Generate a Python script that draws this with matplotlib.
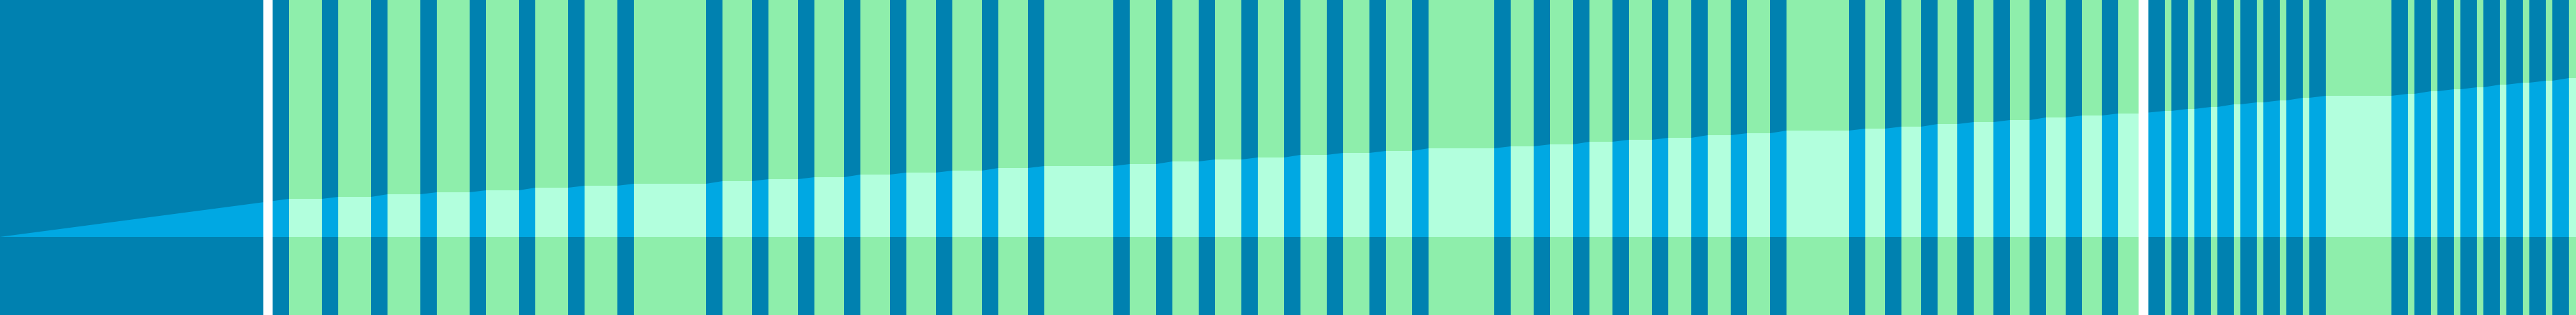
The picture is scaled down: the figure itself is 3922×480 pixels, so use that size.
import numpy as np
import matplotlib
matplotlib.use("Agg")
import matplotlib.pyplot as plt

# green columns: left edge, right edge (x) and the top of the light band over them (y, counted from top)
col_start = [440, 515, 590, 665, 740, 815, 890, 965, 1100, 1170,
             1240, 1310, 1380, 1450, 1520, 1590, 1720, 1785, 1850, 1915,
             1980, 2045, 2110, 2175, 2300, 2360, 2420, 2480, 2540, 2600,
             2660, 2720, 2840, 2895, 2950, 3005, 3060, 3115, 3170, 3225,
             3296, 3331, 3366, 3401, 3436, 3471, 3506, 3541, 3666, 3701,
             3736, 3771, 3806, 3841, 3876, 3911]
col_end = [490, 565, 640, 715, 790, 865, 940, 1075, 1145, 1215,
           1285, 1355, 1425, 1495, 1565, 1695, 1760, 1825, 1890, 1955,
           2020, 2085, 2150, 2275, 2335, 2395, 2455, 2515, 2575, 2635,
           2695, 2815, 2870, 2925, 2980, 3035, 3090, 3145, 3200, 3256,
           3306, 3341, 3376, 3411, 3446, 3481, 3516, 3641, 3676, 3711,
           3746, 3781, 3816, 3851, 3886, 3922]
col_level = [303, 300, 296, 293, 290, 286, 283, 280, 276, 273,
             270, 266, 263, 260, 256, 253, 250, 246, 243, 240,
             236, 233, 230, 226, 223, 220, 216, 213, 210, 206,
             203, 199, 196, 193, 189, 186, 183, 179, 176, 173,
             169, 166, 163, 159, 156, 153, 149, 146, 143, 139,
             136, 133, 129, 126, 123, 119]
band_start = 361          # band level at the far left
band_base = 361           # bottom of the light band

# white separators
gaps = [(401, 415), (3256, 3271)]

W, H = 3922, 480
dark = "#0081b0"
green = "#8eeeab"
bright = "#00a8e3"
mint = "#b2ffdd"

fig = plt.figure(figsize=(W / 100, H / 100), dpi=100)
ax = fig.add_axes([0, 0, 1, 1])
ax.set_xlim(0, W)
ax.set_ylim(H, 0)
ax.axis("off")
fig.patch.set_facecolor(dark)
ax.set_facecolor(dark)

starts = np.array(col_start)
ends = np.array(col_end)
levels = np.array(col_level)

# top edge of the band: flat over green columns, sloping across the dark stripes
xs = np.concatenate([[0], np.column_stack([starts, ends]).ravel()])
ys = np.concatenate([[band_start], np.repeat(levels, 2)])
ax.fill_between(xs, ys, band_base, color=bright, linewidth=0)

ax.bar(starts, H, width=ends - starts, bottom=0, align="edge",
       color=green, linewidth=0)
ax.bar(starts, band_base - levels, width=ends - starts, bottom=levels,
       align="edge", color=mint, linewidth=0)

for a, b in gaps:
    ax.axvspan(a, b, color="white", linewidth=0)

fig.savefig("out.png", dpi=100, facecolor=dark)
